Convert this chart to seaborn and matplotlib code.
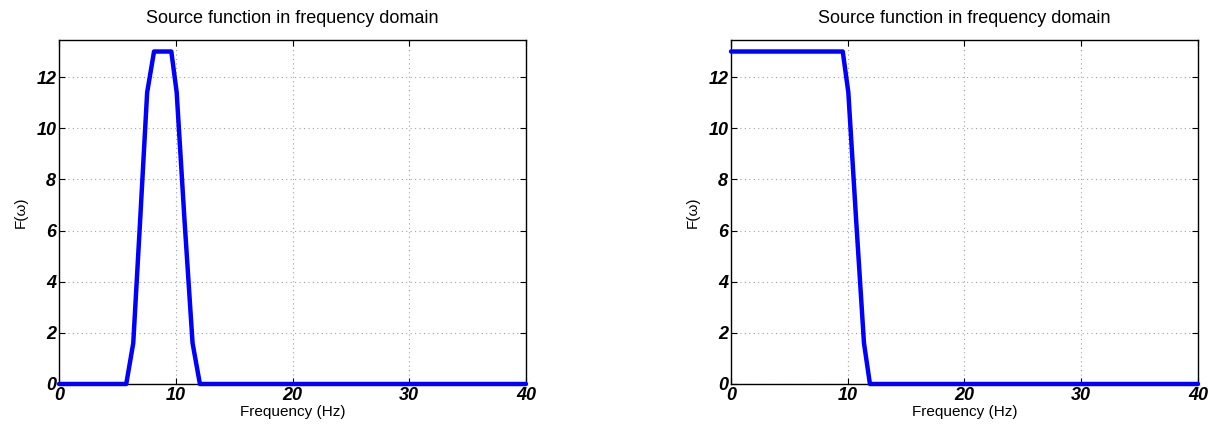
import matplotlib
matplotlib.use("Agg")
import matplotlib.pyplot as plt
import seaborn as sns
import pandas as pd

# Band-pass source spectrum (cosine-tapered trapezoid)
freq_bp = [0.0, 5.76, 6.36, 6.95, 7.55, 8.14, 9.62, 10.08, 10.75, 11.44, 12.07, 40.0]
amp_bp = [0.0, 0.0, 1.6, 6.4, 11.4, 13.0, 13.0, 11.4, 6.4, 1.6, 0.0, 0.0]

# Low-pass source spectrum
freq_lp = [0.0, 9.57, 10.05, 10.72, 11.39, 11.9, 40.0]
amp_lp = [13.0, 13.0, 11.4, 6.4, 1.6, 0.0, 0.0]

x_ticks = [0, 10, 20, 30, 40]
y_ticks = [0, 2, 4, 6, 8, 10, 12]

sns.set_theme(style="white")
plt.rcParams["font.family"] = ["Liberation Sans", "DejaVu Sans"]
plt.rcParams["text.color"] = "black"
plt.rcParams["axes.labelcolor"] = "black"

fig = plt.figure(figsize=(12.17, 4.25), dpi=100)
ax1 = fig.add_axes([59 / 1217, 1 - 384 / 425, (526 - 59) / 1217, (384 - 40) / 425])
ax2 = fig.add_axes([731 / 1217, 1 - 384 / 425, (1198 - 731) / 1217, (384 - 40) / 425])

for ax, fx, fy in [(ax1, freq_bp, amp_bp), (ax2, freq_lp, amp_lp)]:
    df = pd.DataFrame({"f": fx, "a": fy})
    sns.lineplot(data=df, x="f", y="a", ax=ax, color="#0000ff", linewidth=3.2,
                 sort=False, estimator=None, clip_on=False, zorder=3)
    ax.set_xlim(0, 40)
    ax.set_ylim(0, 13.45)
    ax.set_xticks(x_ticks)
    ax.set_yticks(y_ticks)
    ax.set_xticklabels([str(t) for t in x_ticks], fontsize=13, fontweight="bold",
                       fontstyle="italic")
    ax.set_yticklabels([str(t) for t in y_ticks], fontsize=13, fontweight="bold",
                       fontstyle="italic")
    ax.grid(True, color="#a0a0a0", linestyle=(0, (1, 3)), linewidth=0.8)
    ax.tick_params(direction="in", length=4, width=0.8, top=True, right=True,
                   bottom=True, left=True, pad=2, colors="black")
    for side in ax.spines.values():
        side.set_visible(True)
        side.set_color("black")
        side.set_linewidth(1.0)
    ax.set_title("Source function in frequency domain", fontsize=13, pad=12)
    ax.set_xlabel("Frequency (Hz)", fontsize=11, labelpad=1)
    ax.set_ylabel("F(ω)", fontsize=11, labelpad=6)

fig.savefig("out.png", dpi=100)
